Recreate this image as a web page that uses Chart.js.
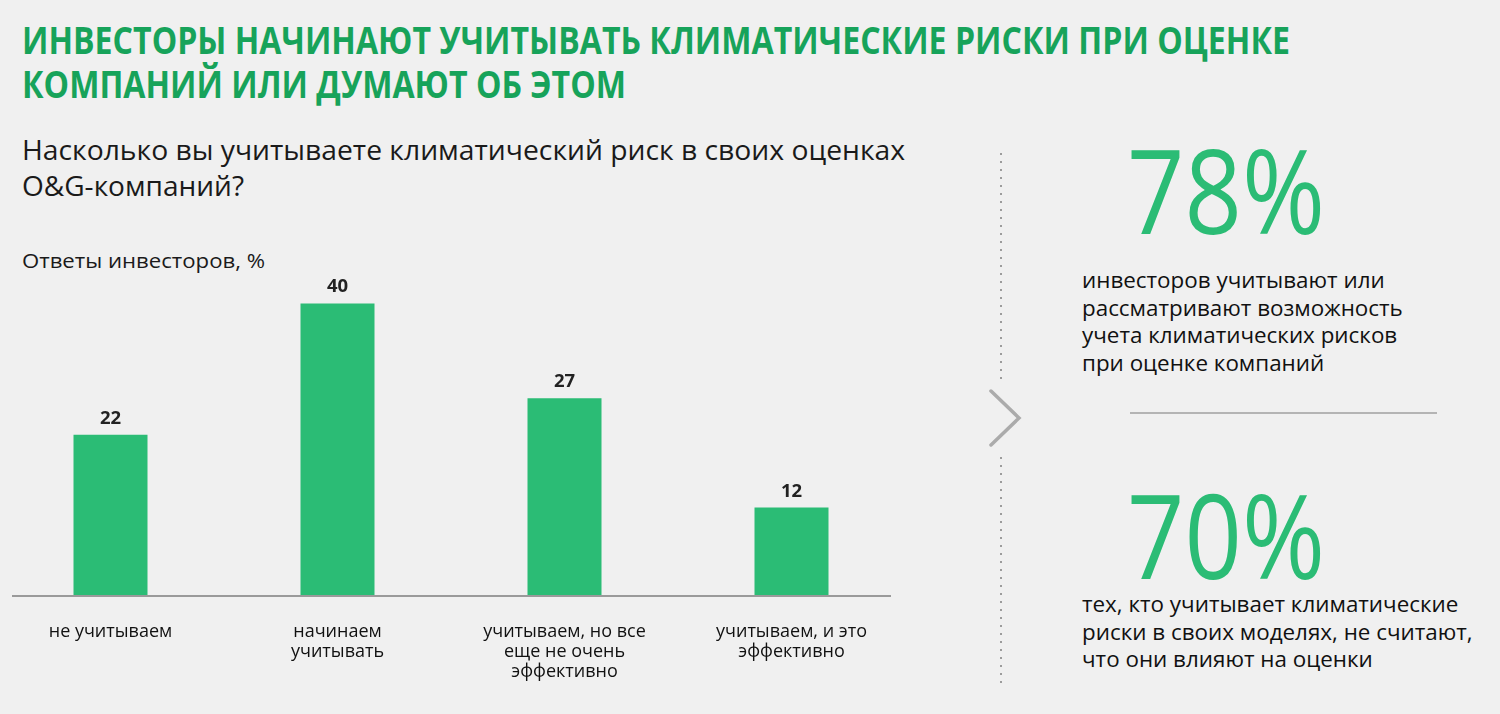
<!DOCTYPE html>
<html>
<head>
<meta charset="utf-8">
<script src="https://cdn.jsdelivr.net/npm/chart.js@4/dist/chart.umd.min.js"></script>
<style>
  html, body { margin: 0; padding: 0; }
  body { width: 1500px; height: 714px; background: #f0f0f0; position: relative; overflow: hidden; font-family: "Open Sans", sans-serif; }
  .abs { position: absolute; }
  .fit { display: inline-block; white-space: nowrap; transform-origin: 0 0; }
  #title { left: 22px; top: 17px; color: #17a35a; font-weight: 700; font-size: 38px; line-height: 44px; }
  #sub { left: 22px; top: 132px; color: #1a1a1a; font-size: 27px; line-height: 36px; }
  #resp { left: 22px; top: 247px; color: #1a1a1a; font-size: 20px; line-height: 28px; }
  #chartBox { left: -3px; top: 267px; width: 908px; height: 438px; }
  .big { left: 1127px; color: #2bbc75; font-size: 118px; line-height: 118px; font-weight: 500; }
  .note { left: 1082px; color: #111; font-size: 22.4px; line-height: 27.5px; }
  #sep { left: 1130px; top: 412px; width: 307px; height: 2px; background: #b4b4b4; }
  .dots { left: 1000px; width: 2px; background-image: linear-gradient(#9c9c9c 2px, transparent 2px); background-size: 2px 8px; }
</style>
</head>
<body>
<div id="title" class="abs"></div>
<div id="sub" class="abs"></div>
<div id="resp" class="abs"></div>
<div id="chartBox" class="abs"><canvas id="canva" width="908" height="438"></canvas></div>

<div class="abs dots" style="top:153px;height:230px"></div>
<div class="abs dots" style="top:457px;height:228px"></div>
<svg class="abs" style="left:980px;top:380px" width="50" height="75">
  <polyline points="11,11 39,38 11,65" fill="none" stroke="#ababab" stroke-width="3.5" stroke-linecap="round"/>
</svg>

<div id="big1" class="abs big" style="top:130px"></div>
<div id="note1" class="abs note" style="top:266px"></div>
<div id="sep" class="abs"></div>
<div id="big2" class="abs big" style="top:475px"></div>
<div id="note2" class="abs note" style="top:590px"></div>

<script>
// тексты
var titre = ['ИНВЕСТОРЫ НАЧИНАЮТ УЧИТЫВАТЬ КЛИМАТИЧЕСКИЕ РИСКИ ПРИ ОЦЕНКЕ', 'КОМПАНИЙ ИЛИ ДУМАЮТ ОБ ЭТОМ'];
var question = ['Насколько вы учитываете климатический риск в своих оценках', 'O&G-компаний?'];
var unite = 'Ответы инвесторов, %';

// данные
var lab = [['не учитываем'], ['начинаем', 'учитывать'], ['учитываем, но все', 'еще не очень', 'эффективно'], ['учитываем, и это', 'эффективно']];
var reponses = [22, 40, 27, 12];

var chiffre1 = '78%';
var texte1 = ['инвесторов учитывают или', 'рассматривают возможность', 'учета климатических рисков', 'при оценке компаний'];
var chiffre2 = '70%';
var texte2 = ['тех, кто учитывает климатические', 'риски в своих моделях, не считают,', 'что они влияют на оценки'];

function lignes(id, arr, widths) {
    var box = document.getElementById(id);
    arr.forEach(function(t, i) {
        var d = document.createElement('div');
        var s = document.createElement('span');
        s.className = 'fit';
        s.textContent = t;
        d.appendChild(s);
        box.appendChild(d);
        if (widths && widths[i]) {
            var w = s.getBoundingClientRect().width;
            s.style.transform = 'scaleX(' + (widths[i] / w) + ')';
        }
    });
}

lignes('title', titre, [1268, 604]);
lignes('sub', question, [883, 222]);
lignes('resp', [unite], [243]);
lignes('big1', [chiffre1], [198]);
lignes('big2', [chiffre2], [198]);
lignes('note1', texte1);
lignes('note2', texte2);

var valeurs = {
    id: 'valeurs',
    afterDatasetsDraw: function(chart) {
        var c = chart.ctx;
        var meta = chart.getDatasetMeta(0);
        c.save();
        c.font = '700 18.5px "Open Sans"';
        c.fillStyle = '#222';
        c.textAlign = 'center';
        c.textBaseline = 'bottom';
        meta.data.forEach(function(bar, i) {
            c.fillText(reponses[i], bar.x, bar.y - 7);
        });
        c.restore();
    }
};

var ligneBase = {
    id: 'ligneBase',
    beforeDatasetsDraw: function(chart) {
        var c = chart.ctx;
        var y = chart.scales.y.getPixelForValue(0) + 1;
        c.save();
        c.strokeStyle = '#9a9a9a';
        c.lineWidth = 2;
        c.beginPath();
        c.moveTo(chart.chartArea.left + 15, y);
        c.lineTo(chart.chartArea.right - 14, y);
        c.stroke();
        c.restore();
    }
};

const ctx = document.getElementById('canva');
canva = new Chart(ctx, {
    type: 'bar',
    data: {
        labels: lab,
        datasets: [{
            data: reponses,
            backgroundColor: '#2bbc75',
            borderWidth: 0,
            categoryPercentage: 1,
            barPercentage: 0.326
        }]
    },
    options: {
        responsive: false,
        animation: false,
        layout: { padding: 0 },
        plugins: {
            legend: { display: false },
            tooltip: { enabled: false }
        },
        scales: {
            x: {
                grid: { display: false, drawTicks: false },
                border: { display: false },
                ticks: {
                    color: '#111',
                    font: { family: 'Open Sans', size: 18, lineHeight: '20px' },
                    padding: 27,
                    maxRotation: 0,
                    autoSkip: false
                },
                afterFit: function(s) { s.height = 110; }
            },
            y: {
                display: false,
                min: 0,
                max: 45
            }
        }
    },
    plugins: [ligneBase, valeurs]
});
</script>
</body>
</html>
